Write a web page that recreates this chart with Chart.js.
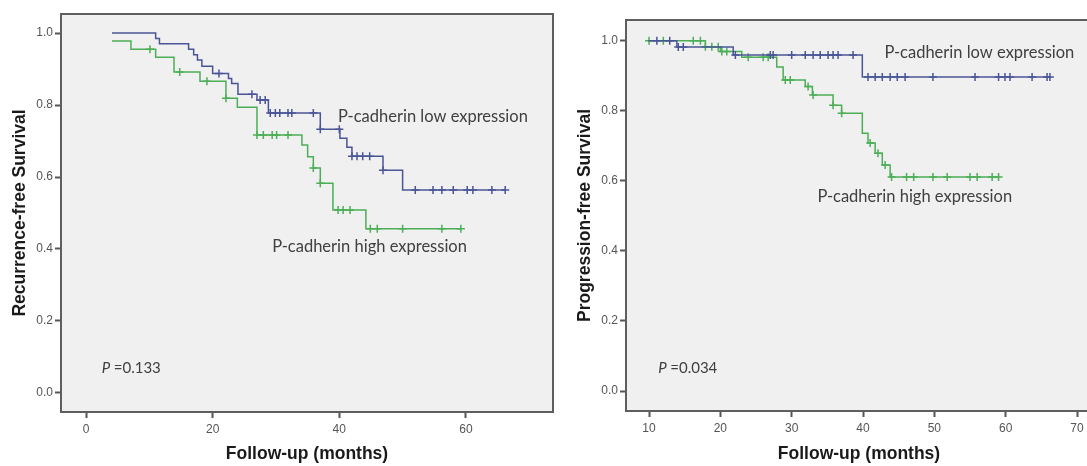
<!DOCTYPE html>
<html>
<head>
<meta charset="utf-8">
<script src="https://cdn.jsdelivr.net/npm/chart.js@4/dist/chart.umd.min.js"></script>
<style>
  html, body { margin: 0; padding: 0; background: #fff; overflow: hidden; }
  body { width: 1087px; height: 466px; position: relative; }
  canvas { position: absolute; top: 0; }
  #rfs { left: 0; }
  #pfs { left: 560px; }
</style>
</head>
<body>
<canvas id="rfs" width="560" height="466"></canvas>
<canvas id="pfs" width="540" height="466"></canvas>
<script>
// Recurrence-free survival (left)
const rfsLowTimes = [4.1, 11.0, 11.6, 16.2, 17.0, 17.6, 18.3, 20.0, 22.5, 23.0, 24.0, 27.0, 28.8, 37.0, 40.1, 41.2, 42.0, 46.9, 50.0];
const rfsLowSurv = [1.0, 0.985, 0.97, 0.955, 0.94, 0.925, 0.908, 0.888, 0.874, 0.86, 0.83, 0.814, 0.778, 0.733, 0.708, 0.683, 0.658, 0.619, 0.564];
const rfsLowEnd = 66.2;
const rfsLowCensor = [21.0, 26.2, 27.5, 28.3, 29.1, 29.9, 30.6, 31.9, 32.5, 35.9, 37.0, 40.0, 42.0, 42.8, 43.7, 44.8, 46.9, 52.0, 54.8, 56.2, 58.0, 60.2, 61.1, 64.1, 66.2];

const rfsHighTimes = [4.1, 7.1, 11.0, 13.9, 18.0, 22.1, 23.9, 27.0, 34.1, 35.0, 35.9, 37.0, 39.0, 44.2];
const rfsHighSurv = [0.978, 0.955, 0.933, 0.892, 0.866, 0.819, 0.794, 0.717, 0.689, 0.656, 0.625, 0.583, 0.508, 0.456];
const rfsHighEnd = 59.2;
const rfsHighCensor = [10.1, 14.8, 19.1, 22.1, 27.0, 28.0, 29.4, 30.1, 31.9, 35.9, 37.0, 39.8, 40.6, 41.7, 44.9, 46.0, 50.0, 56.2, 59.2];

// Progression-free survival (right)
const pfsLowTimes = [9.9, 13.9, 21.8, 39.9];
const pfsLowSurv = [1.0, 0.982, 0.959, 0.896];
const pfsLowEnd = 66.2;
const pfsLowCensor = [11.1, 12.9, 14.1, 14.8, 22.1, 27.0, 27.4, 30.0, 31.9, 33.0, 34.0, 35.1, 35.8, 36.5, 38.6, 40.7, 41.7, 42.7, 43.8, 44.8, 45.9, 49.8, 55.7, 59.0, 59.9, 60.6, 63.7, 65.8, 66.2];

const pfsHighTimes = [9.9, 17.9, 20.0, 23.0, 27.9, 28.8, 31.9, 32.9, 35.8, 37.0, 39.9, 40.7, 41.7, 42.7, 43.8];
const pfsHighSurv = [1.0, 0.983, 0.969, 0.953, 0.925, 0.888, 0.869, 0.845, 0.816, 0.793, 0.736, 0.708, 0.679, 0.645, 0.611];
const pfsHighEnd = 59.0;
const pfsHighCensor = [10.0, 12.0, 16.2, 17.2, 17.9, 18.8, 19.7, 20.2, 20.9, 23.9, 26.0, 26.7, 29.1, 29.8, 32.3, 33.0, 35.8, 37.0, 41.0, 42.1, 43.1, 44.0, 46.1, 47.1, 49.8, 51.8, 55.0, 56.0, 58.1, 59.0];

// tick labels
const rfsXTicks = [0, 20, 40, 60];
const pfsXTicks = [10, 20, 30, 40, 50, 60, 70];
const survTicks = [0.0, 0.2, 0.4, 0.6, 0.8, 1.0];

const BLUE = "#4a5596";
const GREEN = "#4cae57";
const TICK_FONT = { family: "'Liberation Sans', Arial, sans-serif", size: 12 };
const TITLE_FONT = { family: "'Liberation Sans', Arial, sans-serif", size: 17.5, weight: "bold" };
const NOTE_FONT = "Lato, 'Open Sans', sans-serif";

function Main() {
  MakeChart("rfs", {
    low: [rfsLowTimes, rfsLowSurv, rfsLowEnd, rfsLowCensor],
    high: [rfsHighTimes, rfsHighSurv, rfsHighEnd, rfsHighCensor],
    xTicks: rfsXTicks,
    xRange: [-3.95, 73.75],
    yRange: [-0.053, 1.053],
    yTitle: "Recurrence-free Survival",
    padding: { top: 14, right: 7, left: 0, bottom: 0 },
    yWidth: 61,
    xHeight: 54,
    yTitlePad: 9.5,
    notes: [
      { text: "P-cadherin low expression", x: 39.8, y: 0.767 },
      { text: "P-cadherin high expression", x: 29.4, y: 0.406 },
      { p: "=0.133", x: 2.5, y: 0.069 },
    ],
  });
  MakeChart("pfs", {
    low: [pfsLowTimes, pfsLowSurv, pfsLowEnd, pfsLowCensor],
    high: [pfsHighTimes, pfsHighSurv, pfsHighEnd, pfsHighCensor],
    xTicks: pfsXTicks,
    xRange: [6.77, 72.1],
    yRange: [-0.057, 1.059],
    yTitle: "Progression-free Survival",
    padding: { top: 20, right: 8, left: 0, bottom: 0 },
    yWidth: 66,
    xHeight: 55,
    yTitlePad: 14.5,
    notes: [
      { text: "P-cadherin low expression", x: 43.0, y: 0.965 },
      { text: "P-cadherin high expression", x: 33.6, y: 0.554 },
      { p: "=0.034", x: 11.3, y: 0.066 },
    ],
  });
}

// KM step curve points
function StepPoints(times, surv, end) {
  const pts = times.map((t, i) => ({ x: t, y: surv[i] }));
  pts.push({ x: end, y: surv[surv.length - 1] });
  return pts;
}

// censor marks sit on the curve at their time
function CensorPoints(times, surv, marks) {
  return marks.map((m) => {
    let s = surv[0];
    times.forEach((t, i) => {
      if (t <= m) s = surv[i];
    });
    return { x: m, y: s };
  });
}

const framePlugin = {
  id: "frame",
  beforeDraw(chart) {
    const { ctx, chartArea: a } = chart;
    ctx.save();
    ctx.fillStyle = "#f0f0f0";
    ctx.fillRect(a.left, a.top, a.right - a.left, a.bottom - a.top);
    ctx.restore();
  },
  afterDraw(chart, args, opts) {
    const { ctx, chartArea: a, scales } = chart;
    ctx.save();
    ctx.strokeStyle = "#5e5e5e";
    ctx.lineWidth = 2;
    ctx.strokeRect(a.left, a.top, a.right - a.left, a.bottom - a.top);

    // text notes inside the plot
    ctx.textBaseline = "middle";
    ctx.textAlign = "left";
    ctx.fillStyle = "#404040";
    (opts.items || []).forEach((n) => {
      const px = scales.x.getPixelForValue(n.x);
      const py = scales.y.getPixelForValue(n.y);
      if (n.p) {
        ctx.font = "italic 15px " + NOTE_FONT;
        ctx.fillText("P", px, py);
        const w = ctx.measureText("P ").width;
        ctx.font = "15px " + NOTE_FONT;
        ctx.fillText(n.p, px + w, py);
      } else {
        ctx.font = "16.5px " + NOTE_FONT;
        ctx.fillText(n.text, px, py);
      }
    });
    ctx.restore();
  },
};

function MakeChart(id, cfg) {
  const [lt, ls, le, lc] = cfg.low;
  const [ht, hs, he, hc] = cfg.high;

  const curve = (data, color, order) => ({
    data,
    showLine: true,
    stepped: true,
    borderColor: color,
    borderWidth: 1.5,
    pointRadius: 0,
    order,
  });
  const marks = (data, color, order) => ({
    data,
    showLine: false,
    pointStyle: "cross",
    pointRadius: 4,
    borderColor: color,
    borderWidth: 1.5,
    order,
  });

  new Chart(document.getElementById(id), {
    type: "scatter",
    data: {
      datasets: [
        curve(StepPoints(lt, ls, le), BLUE, 1),
        marks(CensorPoints(lt, ls, lc), BLUE, 0),
        curve(StepPoints(ht, hs, he), GREEN, 3),
        marks(CensorPoints(ht, hs, hc), GREEN, 2),
      ],
    },
    options: {
      responsive: false,
      animation: false,
      devicePixelRatio: 1,
      layout: { padding: cfg.padding },
      plugins: {
        legend: { display: false },
        tooltip: { enabled: false },
        frame: { items: cfg.notes },
      },
      scales: {
        x: {
          type: "linear",
          min: cfg.xRange[0],
          max: cfg.xRange[1],
          afterBuildTicks: (s) => {
            s.ticks = cfg.xTicks.map((v) => ({ value: v }));
          },
          afterFit: (s) => {
            s.height = cfg.xHeight;
            s.paddingLeft = s.paddingRight = 0;
          },
          grid: { drawOnChartArea: false, tickLength: 6, tickColor: "#555", tickWidth: 2 },
          border: { display: false },
          ticks: { font: TICK_FONT, color: "#555", padding: 4, maxRotation: 0 },
          title: { display: true, text: "Follow-up (months)", font: TITLE_FONT, color: "#1a1a1a", padding: { top: 0, bottom: 1 } },
        },
        y: {
          type: "linear",
          min: cfg.yRange[0],
          max: cfg.yRange[1],
          afterBuildTicks: (s) => {
            s.ticks = survTicks.map((v) => ({ value: v }));
          },
          afterFit: (s) => {
            s.width = cfg.yWidth;
            s.paddingTop = s.paddingBottom = 0;
          },
          grid: { drawOnChartArea: false, tickLength: 6, tickColor: "#555", tickWidth: 2 },
          border: { display: false },
          ticks: { font: TICK_FONT, color: "#555", padding: 2, callback: (v) => v.toFixed(1) },
          title: { display: true, text: cfg.yTitle, font: TITLE_FONT, color: "#1a1a1a", padding: { top: cfg.yTitlePad, bottom: 0 } },
        },
      },
    },
    plugins: [framePlugin],
  });
}

Main();
</script>
</body>
</html>
